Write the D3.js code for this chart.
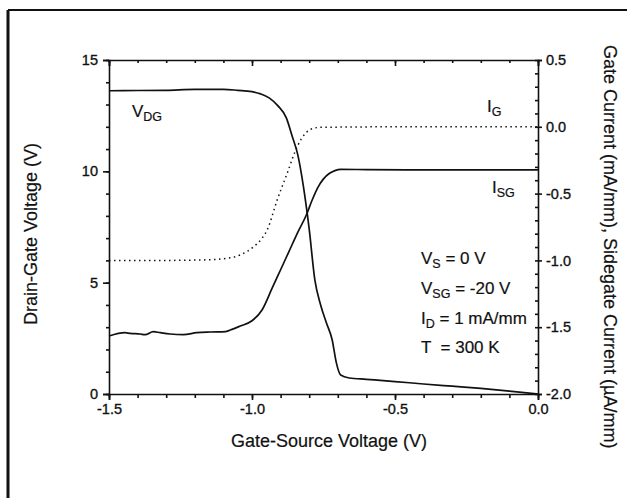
<!DOCTYPE html>
<html><head><meta charset="utf-8">
<script src="https://cdn.jsdelivr.net/npm/d3@7"></script>
<style>body{margin:0;background:#fff}text{font-family:"Liberation Sans",Arial,sans-serif;fill:#111}</style>
</head><body><svg id="c" width="627" height="498"></svg>
<script>
// X axis ticks
const xMajorTicks = [-1.5, -1.0, -0.5, 0.0];
const leftTicks = [0, 5, 10, 15];
const rightTicks = [0.5, 0.0, -0.5, -1.0, -1.5, -2.0];

// V_DG (V), left axis
const vdgX = [-1.5,-1.4,-1.3,-1.2,-1.1,-1.05,-1.0,-0.97,-0.94,-0.91,-0.88,-0.86,-0.84,-0.82,-0.80,-0.78,-0.76,-0.74,-0.72,-0.705,-0.69,-0.66,-0.6,-0.5,-0.4,-0.3,-0.2,-0.1,0];
const vdgY = [13.62,13.63,13.64,13.68,13.68,13.64,13.58,13.48,13.3,12.95,12.4,11.6,10.75,9.3,7.4,5.1,4.0,3.2,2.45,1.4,0.85,0.72,0.66,0.56,0.45,0.35,0.25,0.13,0.0];

// I_SG (uA/mm), right axis
const isgX = [-1.5,-1.444,-1.426,-1.391,-1.374,-1.345,-1.321,-1.286,-1.24,-1.193,-1.146,-1.093,-1.076,-1.041,-1.0,-0.965,-0.93,-0.9,-0.87,-0.84,-0.81,-0.79,-0.77,-0.75,-0.73,-0.71,-0.69,-0.6,-0.4,-0.2,0];
const isgY = [-1.566,-1.541,-1.546,-1.551,-1.556,-1.533,-1.541,-1.551,-1.556,-1.541,-1.536,-1.533,-1.521,-1.491,-1.452,-1.371,-1.21,-1.07,-0.93,-0.79,-0.66,-0.55,-0.455,-0.39,-0.35,-0.328,-0.319,-0.32,-0.322,-0.322,-0.322];

// I_G (mA/mm), right axis
const igX = [-1.5,-1.3,-1.15,-1.087,-1.041,-0.994,-0.965,-0.947,-0.912,-0.877,-0.842,-0.813,-0.784,-0.76,-0.5,0];
const igY = [-1.0,-1.0,-0.995,-0.984,-0.959,-0.897,-0.835,-0.772,-0.548,-0.348,-0.149,-0.049,-0.011,-0.004,0,0];

const svg = d3.select("#c");
const L=109, R=538, T=60, B=394;
const x = d3.scaleLinear().domain([-1.5,0]).range([L,R]);
const yL = d3.scaleLinear().domain([0,15]).range([B,T]);
const yR = d3.scaleLinear().domain([-2.0,0.5]).range([B,T]);
const f1 = d => d3.format(".1f")(d).replace("\u2212","-");

// outer frame
svg.append("line").attr("x1",8).attr("x2",8).attr("y1",10).attr("y2",498).attr("stroke","#111").attr("stroke-width",3);
svg.append("line").attr("x1",8).attr("x2",627).attr("y1",10).attr("y2",10).attr("stroke","#111").attr("stroke-width",2);

const minorX = d3.range(-15,1).map(d=>d/10);
const g = svg.append("g");
const tfont = a=>a.selectAll("text").attr("font-size",14.5).attr("font-family","Liberation Sans, Arial").attr("stroke","#111").attr("stroke-width",0.35);
// bottom axis
g.append("g").attr("transform",`translate(0,${B})`)
  .call(d3.axisBottom(x).tickValues(minorX).tickSize(4).tickFormat(""))
  .call(a=>a.select(".domain").remove());
g.append("g").attr("transform",`translate(0,${B})`)
  .call(d3.axisBottom(x).tickValues(xMajorTicks).tickSize(6).tickFormat(f1).tickPadding(4))
  .call(tfont);
// top axis (inward)
g.append("g").attr("transform",`translate(0,${T})`)
  .call(d3.axisBottom(x).tickValues(minorX).tickSize(3).tickFormat(""))
  .call(a=>a.select(".domain").remove());
g.append("g").attr("transform",`translate(0,${T})`)
  .call(d3.axisBottom(x).tickValues(xMajorTicks).tickSize(6).tickFormat(""));
// left axis
const minorL = d3.range(0,16);
g.append("g").attr("transform",`translate(${L},0)`)
  .call(d3.axisLeft(yL).tickValues(minorL).tickSize(3).tickFormat(""))
  .call(a=>a.select(".domain").remove());
g.append("g").attr("transform",`translate(${L},0)`)
  .call(d3.axisLeft(yL).tickValues(leftTicks).tickSize(6).tickFormat(d3.format("d")).tickPadding(5))
  .call(tfont);
// right axis
const minorR = d3.range(-20,6).map(d=>d/10);
g.append("g").attr("transform",`translate(${R},0)`)
  .call(d3.axisLeft(yR).tickValues(minorR).tickSize(3).tickFormat(""))
  .call(a=>a.select(".domain").remove());
g.append("g").attr("transform",`translate(${R},0)`)
  .call(d3.axisRight(yR).tickValues(rightTicks).tickSize(4).tickFormat(f1).tickPadding(4))
  .call(tfont);
g.selectAll(".domain, .tick line").attr("stroke","#111").attr("stroke-width",1.6);
g.selectAll(".tick text").attr("fill","#111");

// curves
const line = (xs,ys,ys2)=>d3.line().x((d,i)=>x(xs[i])).y((d,i)=>ys2(ys[i])).curve(d3.curveMonotoneX)(xs);
svg.append("path").attr("d",line(vdgX,vdgY,yL)).attr("fill","none").attr("stroke","#111").attr("stroke-width",1.7);
svg.append("path").attr("d",line(isgX,isgY,yR)).attr("fill","none").attr("stroke","#111").attr("stroke-width",1.7);
svg.append("path").attr("d",line(igX,igY,yR)).attr("fill","none").attr("stroke","#111").attr("stroke-width",1.5).attr("stroke-dasharray","1.5,3.5");

// axis titles
const ts = 18;
svg.append("text").attr("x",329).attr("y",447).attr("text-anchor","middle").attr("font-size",ts).attr("stroke","#111").attr("stroke-width",0.2).text("Gate-Source Voltage (V)");
svg.append("text").attr("transform","translate(37,234) rotate(-90)").attr("text-anchor","middle").attr("font-size",ts).attr("stroke","#111").attr("stroke-width",0.2).text("Drain-Gate Voltage (V)");
svg.append("text").attr("transform","translate(604,45) rotate(90)").attr("text-anchor","start").attr("font-size",ts).attr("stroke","#111").attr("stroke-width",0.2).text("Gate Current (mA/mm), Sidegate Current (\u00b5A/mm)");

// labels
function sub(xp,yp,main,s,rest){
  const t=svg.append("text").attr("x",xp).attr("y",yp).attr("font-size",17).attr("stroke","#111").attr("stroke-width",0.2).attr("xml:space","preserve");
  t.append("tspan").text(main);
  t.append("tspan").attr("dy",4).attr("font-size",12.5).text(s);
  if(rest) t.append("tspan").attr("dy",-4).text(rest);
  return t;
}
sub(132,117,"V","DG");
sub(487,112,"I","G");
sub(492,193,"I","SG");
sub(421,264,"V","S"," = 0 V");
sub(421,294,"V","SG"," = -20 V");
sub(421,324,"I","D"," = 1 mA/mm");
svg.append("text").attr("x",421).attr("y",353).attr("font-size",17).attr("stroke","#111").attr("stroke-width",0.2).attr("xml:space","preserve").text("T  = 300 K");
</script></body></html>
